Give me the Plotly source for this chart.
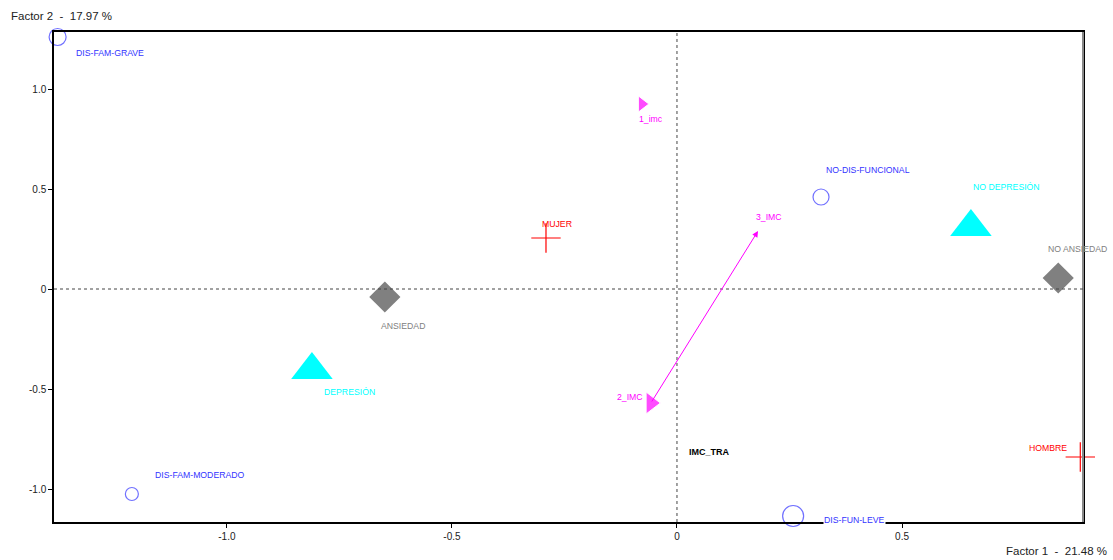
import plotly.graph_objects as go

# ---- data ----
circ_names = ["DIS-FAM-GRAVE", "NO-DIS-FUNCIONAL", "DIS-FAM-MODERADO", "DIS-FUN-LEVE"]
circ_x = [-1.376, 0.320, -1.211, 0.258]
circ_y = [1.260, 0.460, -1.025, -1.135]

tri_names = ["NO DEPRESIÓN", "DEPRESIÓN"]
tri_x = [0.653, -0.811]
tri_y = [0.310, -0.405]

dia_names = ["NO ANSIEDAD", "ANSIEDAD"]
dia_x = [0.847, -0.649]
dia_y = [0.055, -0.040]

imc_names = ["1_imc", "2_IMC", "3_IMC"]
imc_x = [-0.078, -0.058, 0.180]
imc_y = [0.925, -0.570, 0.290]

sex_names = ["MUJER", "HOMBRE"]
sex_x = [-0.291, 0.896]
sex_y = [0.255, -0.840]

var_label = "IMC_TRA"
var_x, var_y = 0.073, -0.815

x_ticks = [-1.0, -0.5, 0, 0.5]
x_ticktext = ["-1.0", "-0.5", "0", "0.5"]
y_ticks = [1.0, 0.5, 0, -0.5, -1.0]
y_ticktext = ["1.0", "0.5", "0", "-0.5", "-1.0"]

# ---- styles / offsets (pixels, +dy = down) ----
circ_sizes = [17, 16, 13, 21]
circ_off = [(52, 16), (47, -27), (68, -19), (61, 4)]
tri_off = [(36, -40), (38, 22)]
dia_off = [(19, -29), (18, 29)]
imc_sizes = [14, 19]
imc_off = [(9, 15), (-21, -6), (11, -14)]
sex_off = [(11, -14), (-32, -9)]

BLUE = "#3333ff"
CYAN = "#00ffff"
GRAY = "#808080"
MAG = "#ff00ff"
RED = "#ff0000"
FONT = "Liberation Sans, Arial"
LBL = 8.7

fig = go.Figure()
fig.add_trace(go.Scatter(x=circ_x, y=circ_y, mode="markers", cliponaxis=False,
                         marker=dict(symbol="circle-open", size=circ_sizes, color=BLUE, line=dict(width=1.2, color=BLUE))))
fig.add_trace(go.Scatter(x=tri_x, y=tri_y, mode="markers", cliponaxis=False,
                         marker=dict(symbol="triangle-up", size=36, color=CYAN)))
fig.add_trace(go.Scatter(x=dia_x, y=dia_y, mode="markers", cliponaxis=False,
                         marker=dict(symbol="diamond", size=24, color=GRAY)))
fig.add_trace(go.Scatter(x=imc_x[:2], y=imc_y[:2], mode="markers", cliponaxis=False,
                         marker=dict(symbol="triangle-right", size=imc_sizes, color=MAG)))
fig.add_trace(go.Scatter(x=sex_x, y=sex_y, mode="markers", cliponaxis=False,
                         marker=dict(symbol="cross-thin-open", size=21, color=RED, line=dict(width=1.2, color=RED))))

annotations = []

def add_labels(names, xs, ys, offs, color, bg=None):
    for n, x, y, (dx, dy) in zip(names, xs, ys, offs):
        a = dict(x=x, y=y, xref="x", yref="y", text=n, showarrow=False,
                 xshift=dx, yshift=-dy, font=dict(family=FONT, size=LBL, color=color))
        if bg:
            a["bgcolor"] = bg
            a["borderpad"] = 0
        annotations.append(a)

add_labels(circ_names[:3], circ_x[:3], circ_y[:3], circ_off[:3], BLUE)
add_labels(circ_names[3:], circ_x[3:], circ_y[3:], circ_off[3:], BLUE, bg="white")
add_labels(tri_names, tri_x, tri_y, tri_off, CYAN)
add_labels(dia_names, dia_x, dia_y, dia_off, GRAY)
add_labels(imc_names, imc_x, imc_y, imc_off, MAG)
add_labels(sex_names, sex_x, sex_y, sex_off, RED)

annotations.append(dict(x=var_x, y=var_y, xref="x", yref="y", text="<b>" + var_label + "</b>",
                        showarrow=False, font=dict(family=FONT, size=9, color="black")))

# arrow 2_IMC -> 3_IMC
annotations.append(dict(x=imc_x[2], y=imc_y[2], ax=imc_x[1], ay=imc_y[1],
                        xref="x", yref="y", axref="x", ayref="y", text="", showarrow=True,
                        arrowhead=2, arrowsize=1.2, arrowwidth=1, arrowcolor=MAG))

# axis titles
annotations.append(dict(x=0, y=1, xref="paper", yref="paper", xanchor="left", yanchor="bottom",
                        xshift=-45, yshift=8, text="Factor 2  -  17.97 %", showarrow=False,
                        font=dict(family=FONT, size=11.5, color="#222")))
annotations.append(dict(x=1, y=0, xref="paper", yref="paper", xanchor="right", yanchor="top",
                        xshift=26, yshift=-21, text="Factor 1  -  21.48 %", showarrow=False,
                        font=dict(family=FONT, size=11.5, color="#222")))

fig.update_layout(
    width=1113, height=560,
    margin=dict(l=54, r=30, t=32, b=38),
    plot_bgcolor="white", paper_bgcolor="white",
    showlegend=False,
    annotations=annotations,
    font=dict(family=FONT, size=10, color="#222"),
    xaxis=dict(range=[-1.384, 0.902], tickvals=x_ticks, ticktext=x_ticktext, showgrid=False,
               zeroline=False, showline=True, linecolor="black", linewidth=1.5, mirror=True,
               ticks="outside", ticklen=4, tickcolor="black", tickfont=dict(size=10)),
    yaxis=dict(range=[-1.165, 1.285], tickvals=y_ticks, ticktext=y_ticktext, showgrid=False,
               zeroline=False, showline=True, linecolor="black", linewidth=1.5, mirror=True,
               ticks="outside", ticklen=4, tickcolor="black", tickfont=dict(size=10)),
    shapes=[dict(type="line", xref="paper", yref="paper", x0=1, x1=1, y0=0, y1=1,
                 line=dict(color="#888888", width=2), layer="above")],
)

# dotted reference lines at origin
fig.add_hline(y=0, line=dict(color="#444", width=1, dash="dot"))
fig.add_vline(x=0, line=dict(color="#444", width=1, dash="dot"))

fig.write_html("out.html")
